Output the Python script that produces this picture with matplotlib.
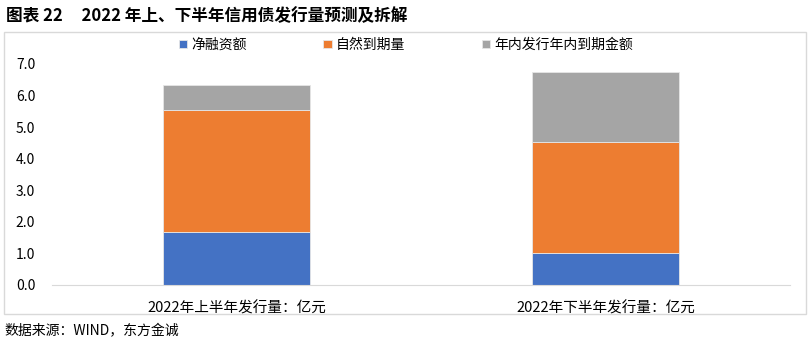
import matplotlib.pyplot as plt
from matplotlib.patches import Rectangle

plt.rcParams["font.family"] = ["Noto Sans CJK SC", "DejaVu Sans"]

categories = ["2022年上半年发行量：亿元", "2022年下半年发行量：亿元"]
net_financing = [1.69, 1.01]
maturing = [3.85, 3.53]
in_year = [0.79, 2.21]
series_names = ["净融资额", "自然到期量", "年内发行年内到期金额"]
colors = ["#4472C4", "#ED7D31", "#A5A5A5"]

fig = plt.figure(figsize=(8.12, 3.45), dpi=100)
ax = fig.add_axes([0.064, 0.174, 0.909, 0.6405])

x = range(len(categories))
bottom = [0, 0]
for vals, name, c in zip([net_financing, maturing, in_year], series_names, colors):
    ax.bar(x, vals, 0.4, bottom=bottom, color=c, label=name,
           edgecolor="#e6e6e6", linewidth=0.6)
    bottom = [b + v for b, v in zip(bottom, vals)]

ax.set_ylim(0, 7)
ax.set_xlim(-0.5, 1.5)
ax.set_yticks([i * 1.0 for i in range(8)])
ax.set_yticklabels([f"{i:.1f}" for i in range(8)], fontsize=10)
ax.set_xticks(list(x))
ax.set_xticklabels(categories, fontsize=10.5)
ax.tick_params(length=0, pad=12)
ax.tick_params(axis="x", pad=12)
for s in ["top", "right", "left"]:
    ax.spines[s].set_visible(False)
ax.spines["bottom"].set_color("#d9d9d9")

ax.legend(loc="upper left", bbox_to_anchor=(0.155, 1.175), ncol=3, frameon=False,
          fontsize=10, handlelength=0.6, handleheight=0.6, columnspacing=5.5,
          handletextpad=0.3)

fig.patches.append(Rectangle((4 / 812, 1 - 314 / 345), 802 / 812, 282 / 345,
                             transform=fig.transFigure, fill=False,
                             edgecolor="#d9d9d9", linewidth=1))
fig.text(0.007, 0.952, "图表 22     2022 年上、下半年信用债发行量预测及拆解",
         fontsize=12, fontweight="bold", va="center")
fig.text(0.005, 0.04, "数据来源：WIND，东方金诚", fontsize=10, va="center")

fig.savefig("out.png")
